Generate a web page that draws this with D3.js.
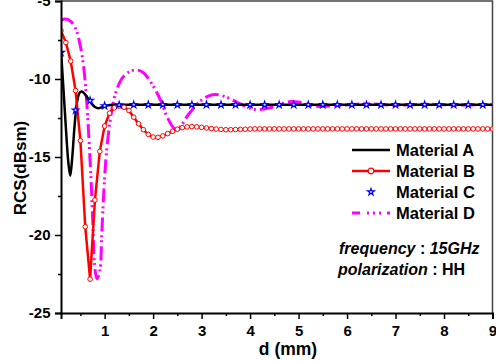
<!DOCTYPE html>
<html>
<head>
<meta charset="utf-8">
<script src="https://cdn.jsdelivr.net/npm/d3@7"></script>
<style>
  body { margin: 0; background: #fff; }
  svg text { font-family: "Liberation Sans", Arial, sans-serif; font-weight: bold; }
</style>
</head>
<body>
<div id="chart"></div>
<script>
// Material A (solid black)
const matA_d = [0.1, 0.15, 0.2, 0.25, 0.29, 0.33, 0.38, 0.43, 0.48, 0.53, 0.6, 0.7, 0.8, 0.87, 0.95, 1.05, 1.2, 1.5, 2, 3, 4, 5, 6, 7, 8, 9];
const matA_v = [-8.2, -10.6, -13.1, -15.3, -16.2, -15.1, -13.0, -11.5, -10.9, -10.8, -11.0, -11.45, -11.8, -11.88, -11.8, -11.7, -11.65, -11.65, -11.65, -11.65, -11.65, -11.65, -11.65, -11.65, -11.65, -11.65];

// Material B (red line + open circles, every 0.1 mm)
const matB_d = [0.1, 0.2, 0.3, 0.4, 0.5, 0.6, 0.7, 0.8, 0.9, 1.0,
  1.1, 1.2, 1.3, 1.4, 1.5, 1.6, 1.7, 1.8, 1.9, 2.0,
  2.1, 2.2, 2.3, 2.4, 2.5, 2.6, 2.7, 2.8, 2.9, 3.0,
  3.1, 3.2, 3.3, 3.4, 3.5, 3.6, 3.7, 3.8, 3.9, 4.0,
  4.1, 4.2, 4.3, 4.4, 4.5, 4.6, 4.7, 4.8, 4.9, 5.0,
  5.1, 5.2, 5.3, 5.4, 5.5, 5.6, 5.7, 5.8, 5.9, 6.0,
  6.1, 6.2, 6.3, 6.4, 6.5, 6.6, 6.7, 6.8, 6.9, 7.0,
  7.1, 7.2, 7.3, 7.4, 7.5, 7.6, 7.7, 7.8, 7.9, 8.0,
  8.1, 8.2, 8.3, 8.4, 8.5, 8.6, 8.7, 8.8, 8.9, 9.0];
const matB_v = [-6.9, -7.66, -8.85, -10.74, -13.95, -19.47, -22.83, -17.76, -14.64, -13.02,
  -12.19, -11.85, -11.74, -11.81, -12.02, -12.45, -12.87, -13.25, -13.55, -13.72,
  -13.74, -13.65, -13.5, -13.35, -13.22, -13.12, -13.07, -13.05, -13.07, -13.1,
  -13.14, -13.18, -13.21, -13.23, -13.25, -13.25, -13.24, -13.23, -13.22, -13.21,
  -13.2, -13.2, -13.2, -13.2, -13.2, -13.2, -13.2, -13.2, -13.2, -13.2,
  -13.2, -13.2, -13.2, -13.2, -13.2, -13.2, -13.2, -13.2, -13.2, -13.2,
  -13.2, -13.2, -13.2, -13.2, -13.2, -13.2, -13.2, -13.2, -13.2, -13.2,
  -13.2, -13.2, -13.2, -13.2, -13.2, -13.2, -13.2, -13.2, -13.2, -13.2,
  -13.2, -13.2, -13.2, -13.2, -13.2, -13.2, -13.2, -13.2, -13.2, -13.2];

// Material C (blue stars only)
const matC_d = [0.1, 0.4, 0.7, 1.0, 1.3, 1.6, 1.9, 2.2, 2.5, 2.8, 3.1, 3.4, 3.7, 4.0, 4.3,
  4.6, 4.9, 5.2, 5.5, 5.8, 6.1, 6.4, 6.7, 7.0, 7.3, 7.6, 7.9, 8.2, 8.5, 8.8];
const matC_v = [-8.3, -12.0, -11.38, -11.72, -11.66, -11.65, -11.65, -11.65, -11.65, -11.65, -11.65, -11.65, -11.65, -11.65, -11.65,
  -11.65, -11.65, -11.65, -11.65, -11.65, -11.65, -11.65, -11.65, -11.65, -11.65, -11.65, -11.65, -11.65, -11.65, -11.65];

// Material D (magenta dash-dot-dot)
const matD_d = [0.1, 0.2, 0.3, 0.4, 0.5, 0.57, 0.62, 0.67, 0.72, 0.76, 0.79, 0.84, 0.9, 0.94, 0.98, 1.03, 1.1, 1.2, 1.35, 1.5,
  1.65, 1.8, 2.0, 2.16, 2.3, 2.45, 2.55, 2.7, 2.85, 3.0, 3.15, 3.3, 3.5, 3.8, 4.1, 4.4, 4.8, 5.0, 5.35, 5.8,
  6.4, 7.0, 7.6, 8.2, 9.0];
const matD_v = [-6.22, -6.15, -6.3, -6.75, -7.9, -9.3, -11.0, -13.5, -16.5, -19.5, -21.8, -22.8, -22.3, -20.0, -17.4, -15.0, -13.0, -11.2, -10.0, -9.55,
  -9.42, -9.6, -10.45, -11.4, -12.5, -13.2, -13.1, -12.4, -11.8, -11.35, -11.08, -11.0, -11.15, -11.6, -11.95, -11.85, -11.46, -11.48, -11.75, -11.7,
  -11.58, -11.68, -11.62, -11.66, -11.65];

const xTicks = [1, 2, 3, 4, 5, 6, 7, 8, 9];
const yTicks = [-25, -20, -15, -10, -5];
const legendNames = ["Material A", "Material B", "Material C", "Material D"];

const W = 496, H = 361;
const margin = {top: 1, left: 61, right: 3.5, bottom: 48};

const svg = d3.select("#chart").append("svg")
    .attr("width", W)
    .attr("height", H);

const x = d3.scaleLinear().domain([0.1, 9]).range([margin.left, W - margin.right]);
const y = d3.scaleLinear().domain([-25, -5]).range([H - margin.bottom, margin.top]);

svg.append("clipPath").attr("id", "plotclip")
  .append("rect")
    .attr("x", margin.left).attr("y", margin.top)
    .attr("width", W - margin.right - margin.left)
    .attr("height", H - margin.bottom - margin.top);

// frame (top + right)
svg.append("path")
    .attr("d", `M${x(0.1)},${y(-5)}H${x(9)}V${y(-25)}`)
    .attr("fill", "none")
    .attr("stroke", "#444")
    .attr("stroke-width", 1.5);

const zip = (ds, vs) => ds.map((d, i) => ({d: d, v: vs[i]}));

let line = d3.line().x(p => x(p.d)).y(p => y(p.v));
let smooth = d3.line().x(p => x(p.d)).y(p => y(p.v)).curve(d3.curveCatmullRom.alpha(0.5));

let plot = svg.append("g").attr("clip-path", "url(#plotclip)");

// Material D
plot.append("path")
    .attr("d", smooth(zip(matD_d, matD_v)))
    .attr("fill", "none")
    .attr("stroke", "#ff00ff")
    .attr("stroke-width", 3)
    .attr("stroke-dasharray", "14,4,2,3,2,4");

// Material A
plot.append("path")
    .attr("d", smooth(zip(matA_d, matA_v)))
    .attr("fill", "none")
    .attr("stroke", "#000")
    .attr("stroke-width", 2.5);

// Material B
let dataB = zip(matB_d, matB_v);
plot.append("path")
    .attr("d", line(dataB))
    .attr("fill", "none")
    .attr("stroke", "#ff0000")
    .attr("stroke-width", 2.5);
plot.selectAll("circle.b")
    .data(dataB)
    .join("circle")
    .attr("class", "b")
    .attr("cx", p => x(p.d))
    .attr("cy", p => y(p.v))
    .attr("r", 2.3)
    .attr("fill", "#fff")
    .attr("stroke", "#ff0000")
    .attr("stroke-width", 1);

// Material C
let star = d3.symbol().type(d3.symbolStar).size(14);
plot.selectAll("path.c")
    .data(zip(matC_d, matC_v))
    .join("path")
    .attr("class", "c")
    .attr("transform", p => `translate(${x(p.d)},${y(p.v)})`)
    .attr("d", star)
    .attr("fill", "#fff")
    .attr("stroke", "#0000ff")
    .attr("stroke-width", 1.2);

// axes
let xAxis = svg.append("g")
    .attr("transform", `translate(0,${y(-25)})`)
    .call(d3.axisBottom(x).tickValues(xTicks).tickSize(6).tickFormat(d3.format("d")));
svg.append("g")
    .attr("transform", `translate(0,${y(-25)})`)
    .call(d3.axisBottom(x).tickValues([0.5, 1.5, 2.5, 3.5, 4.5, 5.5, 6.5, 7.5, 8.5]).tickSize(3).tickFormat(""))
    .call(g => g.select(".domain").remove());

let yAxis = svg.append("g")
    .attr("transform", `translate(${x(0.1)},0)`)
    .call(d3.axisLeft(y).tickValues(yTicks).tickSize(6).tickFormat(d3.format("d")));
svg.append("g")
    .attr("transform", `translate(${x(0.1)},0)`)
    .call(d3.axisLeft(y).tickValues([-22.5, -17.5, -12.5, -7.5]).tickSize(3).tickFormat(""))
    .call(g => g.select(".domain").remove());

svg.selectAll(".tick line").attr("stroke", "#000").attr("stroke-width", 1.5);
[xAxis, yAxis].forEach(a => {
    a.select(".domain").attr("stroke", "#000").attr("stroke-width", 2);
    a.selectAll(".tick text").attr("font-size", 15).attr("fill", "#000")
        .attr("font-family", "Liberation Sans, Arial, sans-serif").attr("font-weight", "bold");
});
xAxis.selectAll(".tick text").attr("dy", "0.95em");
// minus sign as hyphen like the original
yAxis.selectAll(".tick text").text(d => String(d).replace("\u2212", "-")).attr("dx", "-0.1em");

// axis titles
svg.append("text")
    .attr("x", 288).attr("y", 355)
    .attr("text-anchor", "middle")
    .attr("font-size", 17.5)
    .text("d (mm)");
svg.append("text")
    .attr("transform", "translate(26,168) rotate(-90)")
    .attr("text-anchor", "middle")
    .attr("font-size", 17)
    .text("RCS(dBsm)");

// legend
let leg = svg.append("g").attr("transform", "translate(352,150)");
legendNames.forEach((name, i) => {
    let g = leg.append("g").attr("transform", `translate(0,${i * 21})`);
    if (i === 0) {
        g.append("line").attr("x1", 0).attr("x2", 38).attr("stroke", "#000").attr("stroke-width", 2.5);
    } else if (i === 1) {
        g.append("line").attr("x1", 0).attr("x2", 38).attr("stroke", "#ff0000").attr("stroke-width", 2.5);
        g.append("circle").attr("cx", 19).attr("r", 2.8).attr("fill", "#fff").attr("stroke", "#ff0000").attr("stroke-width", 1.2);
    } else if (i === 2) {
        g.append("path").attr("transform", "translate(19,0)").attr("d", star)
            .attr("fill", "#fff").attr("stroke", "#0000ff").attr("stroke-width", 1.2);
    } else {
        g.append("line").attr("x1", 0).attr("x2", 38).attr("stroke", "#ff00ff").attr("stroke-width", 3)
            .attr("stroke-dasharray", "8,7,2,4,2,4,2,6");
    }
    g.append("text")
        .attr("x", 44).attr("y", 0).attr("dy", "0.36em")
        .attr("font-size", 16.5)
        .text(name);
});

// annotation
let note = svg.append("g").attr("font-size", 16);
let t1 = note.append("text").attr("x", 339).attr("y", 254);
t1.append("tspan").attr("font-style", "italic").text("frequency");
t1.append("tspan").text(" : ");
t1.append("tspan").attr("font-style", "italic").text("15GHz");
let t2 = note.append("text").attr("x", 338).attr("y", 275);
t2.append("tspan").attr("font-style", "italic").text("polarization");
t2.append("tspan").text(" : HH");
</script>
</body>
</html>
